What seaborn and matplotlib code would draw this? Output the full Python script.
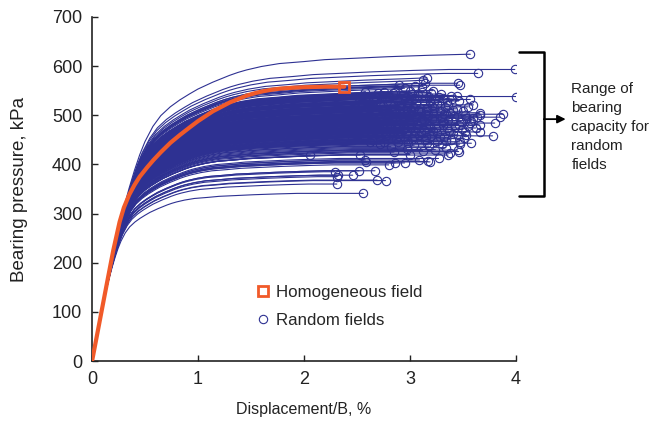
"""Bearing pressure vs displacement: homogeneous field against random fields."""

import matplotlib.pyplot as plt
import pandas as pd
import seaborn as sns

BLUE = "#2e3192"
ORANGE = "#f15a29"
INK = "#222222"

# homogeneous field curve
homog_x = [0, 0.07, 0.14, 0.2, 0.26, 0.30, 0.35, 0.40, 0.45, 0.52, 0.58, 0.65,
           0.74, 0.83, 0.92, 1.0, 1.07, 1.14, 1.22, 1.3, 1.38, 1.46, 1.54, 1.62,
           1.7, 1.77, 1.9, 2.0, 2.2, 2.38]
homog_y = [0, 79, 158, 225, 283, 312, 338, 358, 375, 394, 409, 425,
           444, 460, 475, 488, 498, 508, 517, 526, 533, 540, 545, 549,
           552, 554, 556, 557, 558, 558]

# shape of the strongest random-field curve, used as the template for the others
profile_x = [0, 0.05, 0.1, 0.15, 0.2, 0.25, 0.3, 0.35, 0.4, 0.45, 0.5, 0.575,
             0.65, 0.74, 0.83, 0.92, 1.0, 1.07, 1.14, 1.22, 1.3, 1.38, 1.46,
             1.6, 1.77, 2.0, 2.2, 2.5, 2.8, 3.2, 3.55]
profile_y = [0, 56, 113, 166, 218, 268, 312, 352, 388, 420, 447, 478,
             500, 518, 532, 544, 554, 561, 568, 575, 582, 588, 593,
             600, 606, 610, 614, 617, 620, 623, 625]

# end points of the random-field curves (displacement/B %, kPa)
end_x = [2.56, 2.31, 2.69, 2.77, 2.31, 2.32, 2.46, 2.29, 2.52, 2.67, 2.59, 2.80,
         2.86, 2.95, 3.09, 3.17, 3.19, 3.27, 3.38, 3.36, 3.46, 3.47, 3.45, 3.58,
         3.78, 3.66, 3.66, 3.80, 3.85, 3.88, 3.60, 3.66, 3.66, 4.00, 3.60, 3.57,
         3.44, 3.31, 3.22, 3.02, 2.86, 2.76, 2.58, 3.11, 3.14, 3.12, 3.16, 3.45,
         3.47, 3.64, 3.99, 3.57, 2.06, 2.53, 2.58,
         2.65, 2.72, 2.80, 2.88, 2.93, 2.98, 3.04, 3.08, 3.13, 3.18, 3.24, 3.29,
         3.35, 3.40, 3.26,
         2.60, 2.68, 2.75, 2.83, 2.90, 2.97, 3.03, 3.10, 3.16, 3.21, 3.28, 3.33,
         3.38, 3.44, 3.50, 3.55,
         2.63, 2.71, 2.79, 2.86, 2.92, 2.99, 3.06, 3.11, 3.17, 3.23, 3.30, 3.36,
         3.42, 3.48, 3.53, 3.58,
         2.66, 2.74, 2.81, 2.88, 2.94, 3.01, 3.07, 3.13, 3.19, 3.25, 3.31, 3.37,
         3.43, 3.49, 3.55, 3.62,
         2.69, 2.77, 2.84, 2.91, 2.96, 3.02, 3.09, 3.14, 3.20, 3.26, 3.32, 3.39,
         3.45, 3.51,
         2.72, 2.82, 2.89, 2.97, 3.04, 3.12, 3.18, 3.24, 3.30, 3.34,
         2.55, 2.70, 3.00, 3.20, 2.50, 2.58, 2.40, 2.45, 2.62, 2.85, 3.00,
         2.95, 3.05, 2.90,
         2.52, 2.61, 2.67, 2.74, 2.78, 2.84, 2.87, 2.91, 2.96, 3.01, 3.06, 3.11,
         3.15, 3.19, 3.23, 3.27, 3.32, 3.36, 3.41, 3.46, 3.52, 3.39,
         2.54, 2.60, 2.67, 2.73, 2.78, 2.83, 2.89, 2.94, 3.00, 3.05, 3.10, 3.15,
         3.21, 3.26, 3.31, 3.35, 3.40, 3.46, 3.52, 3.57, 3.63,
         2.57, 2.64, 2.70, 2.76, 2.82, 2.87, 2.93, 2.98, 3.04, 3.10, 3.16, 3.22,
         3.28, 3.34, 3.41, 3.47, 3.53,
         2.48, 2.44, 2.58, 2.66, 3.08, 3.22, 2.99, 2.81, 3.15, 2.93]
end_y = [341, 360, 368, 367, 375, 378, 378, 385, 387, 387, 405, 399,
         403, 403, 409, 406, 405, 412, 423, 419, 426, 441, 429, 443,
         458, 466, 480, 484, 496, 502, 494, 500, 505, 538, 521, 532,
         539, 536, 550, 544, 548, 548, 548, 558, 565, 571, 576, 565,
         561, 585, 593, 624, 419, 419, 409,
         530, 525, 538, 531, 542, 527, 535, 541, 529, 537, 530, 543,
         526, 533, 522,
         515, 508, 519, 512, 520, 510, 517, 506, 514, 519, 509, 516,
         505, 513, 508, 517,
         498, 492, 501, 495, 503, 489, 497, 493, 500, 488, 496, 491,
         499, 486, 494, 489,
         482, 476, 485, 472, 480, 475, 483, 470, 478, 473, 481, 468,
         476, 471, 479, 474,
         462, 457, 466, 455, 463, 452, 460, 449, 458, 447, 455, 450,
         460, 453,
         441, 436, 445, 432, 439, 428, 437, 430, 442, 434,
         525, 545, 549, 546, 505, 490, 470, 455, 445, 425, 420,
         555, 560, 562,
         535, 522, 540, 512, 528, 545, 504, 518, 537, 511, 524, 547,
         503, 527, 515, 538, 502, 521, 511, 529, 500, 540,
         497, 485, 469, 499, 480, 490, 462, 496, 484, 468, 487, 476,
         492, 464, 486, 474, 488, 481, 466, 484, 497,
         458, 450, 471, 446, 478, 451, 469, 444, 458, 465, 443, 467,
         456, 448, 462, 446, 459,
         515, 488, 475, 528, 510, 505, 500, 465, 455, 480]

# one long table: every curve is the template scaled to its own capacity
rows = []
top = profile_y[-1]
for i, (xe, q) in enumerate(zip(end_x, end_y)):
    k = top / q
    for px, py in zip(profile_x, profile_y):
        if px / k < xe:
            rows.append((i, px / k, q * py / top))
    rows.append((i, xe, q))
curves = pd.DataFrame(rows, columns=["curve", "disp", "pressure"])

sns.set_theme(style="ticks")
plt.rcParams["font.family"] = ["Liberation Sans", "DejaVu Sans"]

fig = plt.figure(figsize=(6.53, 4.22), dpi=100)
ax = fig.add_axes([0.141, 0.1445, 0.649, 0.8155])

sns.lineplot(data=curves, x="disp", y="pressure", units="curve", estimator=None,
             color=BLUE, lw=0.8, ax=ax, legend=False)
ax.plot(end_x, end_y, "o", ms=6, mfc="none", mec=BLUE, mew=0.8, zorder=3)
ax.plot(homog_x, homog_y, color=ORANGE, lw=3, zorder=4)
ax.plot(homog_x[-1], homog_y[-1], "s", ms=7, mfc="none", mec=ORANGE, mew=2, zorder=5)

ax.set_xlim(0, 4)
ax.set_ylim(0, 700)
ax.set_xticks([0, 1, 2, 3, 4])
ax.set_yticks(range(0, 701, 100))
ax.tick_params(direction="in", length=4, width=1, labelsize=13, color=INK,
               labelcolor=INK, pad=7)
sns.despine(ax=ax)
for s in ("left", "bottom"):
    ax.spines[s].set_linewidth(1.2)
    ax.spines[s].set_color(INK)
ax.set_xlabel("Displacement/B, %", fontsize=11.5, color=INK)
ax.set_ylabel("Bearing pressure, kPa", fontsize=13.5, color=INK)
ax.xaxis.set_label_coords(0.5, -0.119)
ax.yaxis.set_label_coords(-0.151, 0.5)

# legend
h1 = plt.Line2D([], [], ls="none", marker="s", ms=7, mfc="none", mec=ORANGE, mew=2)
h2 = plt.Line2D([], [], ls="none", marker="o", ms=6, mfc="none", mec=BLUE, mew=0.8)
ax.legend([h1, h2], ["Homogeneous field", "Random fields"], loc="upper left",
          bbox_to_anchor=(0.351, 0.266), frameon=False, fontsize=12.2,
          handlelength=0.8, handletextpad=0.4, labelspacing=0.8)

# bracket marking the range of capacities
kw = dict(color="black", lw=1.8, clip_on=False)
ax.plot([4.03, 4.264, 4.264, 4.03], [629, 629, 336, 336], **kw)
ax.annotate("", xy=(4.47, 492), xytext=(4.264, 492), annotation_clip=False,
            arrowprops=dict(arrowstyle="-|>", color="black", lw=1.3,
                            mutation_scale=12, shrinkA=0, shrinkB=0))
ax.text(4.525, 476, "Range of\nbearing\ncapacity for\nrandom\nfields", fontsize=11,
        va="center", ha="left", color=INK, linespacing=1.45)

fig.savefig("out.png", dpi=100)
